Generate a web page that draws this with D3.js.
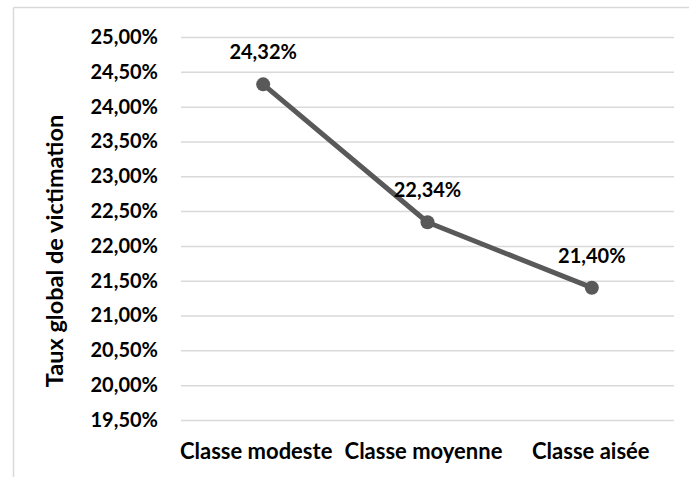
<!DOCTYPE html>
<html>
<head>
<meta charset="utf-8">
<script src="https://cdn.jsdelivr.net/npm/d3@7"></script>
<style>
    body { margin: 0; background: #fff; }
    text { font-family: Lato, "Open Sans", sans-serif; font-weight: bold; fill: #000; }
</style>
</head>
<body>
<svg id="chart" width="689" height="477"></svg>
<script>
// chart values
const categories = ["Classe modeste", "Classe moyenne", "Classe aisée"];
const rates = [24.32, 22.34, 21.40];
const yTicks = [19.5, 20, 20.5, 21, 21.5, 22, 22.5, 23, 23.5, 24, 24.5, 25];
const yTitle = "Taux global de victimation";

const svg = d3.select("#chart");
const margin = { left: 181, right: 15, top: 37, bottom: 57 };
const width = 689, height = 477;

const x = d3.scaleBand().domain(categories).range([margin.left, width - margin.right]);
const y = d3.scaleLinear().domain([19.5, 25]).range([height - margin.bottom, margin.top]);

const fmt = v => d3.format(".2f")(v).replace(".", ",") + "%";

// outer frame (only top and left edges show)
svg.append("line").attr("x1", 13.5).attr("x2", width).attr("y1", 7.5).attr("y2", 7.5)
    .attr("stroke", "#d9d9d9").attr("stroke-width", 1.5);
svg.append("line").attr("x1", 13.5).attr("x2", 13.5).attr("y1", 7.5).attr("y2", height)
    .attr("stroke", "#d9d9d9").attr("stroke-width", 1.5);

// gridlines + y labels
const yAxis = svg.append("g").attr("transform", `translate(${margin.left},0)`)
    .call(d3.axisLeft(y).tickValues(yTicks).tickFormat(fmt)
        .tickSize(-(width - margin.left - margin.right)).tickPadding(23));
yAxis.select(".domain").remove();
yAxis.selectAll(".tick line").attr("stroke", "#d9d9d9").attr("stroke-width", 1.5);
yAxis.selectAll(".tick text").attr("font-size", 20).style("font-family", "Lato, sans-serif")
    .attr("font-weight", "bold").attr("fill", "#000");

// x labels
const xAxis = svg.append("g").attr("transform", `translate(0,${height - margin.bottom})`)
    .call(d3.axisBottom(x).tickSize(0).tickPadding(23));
xAxis.select(".domain").remove();
xAxis.selectAll(".tick text").attr("font-size", 22).style("font-family", "Lato, sans-serif")
    .attr("font-weight", "bold").attr("fill", "#000");
xAxis.selectAll(".tick").attr("transform", (d, i) => `translate(${x(d) + x.bandwidth() / 2 + [-7, -4, -1][i]},0)`);

// y title
svg.append("text")
    .attr("transform", "translate(63,251) rotate(-90)")
    .attr("text-anchor", "middle")
    .attr("font-size", 23.5)
    .text(yTitle);

// line
const pts = categories.map((c, i) => [x(c) + x.bandwidth() / 2, y(rates[i])]);
svg.append("path")
    .attr("d", d3.line()(pts))
    .attr("fill", "none")
    .attr("stroke", "#595959")
    .attr("stroke-width", 5)
    .attr("stroke-linejoin", "round");

svg.selectAll("circle.pt").data(pts).join("circle")
    .attr("class", "pt")
    .attr("cx", d => d[0]).attr("cy", d => d[1])
    .attr("r", 7)
    .attr("fill", "#595959");

// data labels
svg.selectAll("text.lbl").data(pts).join("text")
    .attr("class", "lbl")
    .attr("x", d => d[0]).attr("y", d => d[1] - 25)
    .attr("text-anchor", "middle")
    .attr("font-size", 20)
    .text((d, i) => fmt(rates[i]));
</script>
</body>
</html>
